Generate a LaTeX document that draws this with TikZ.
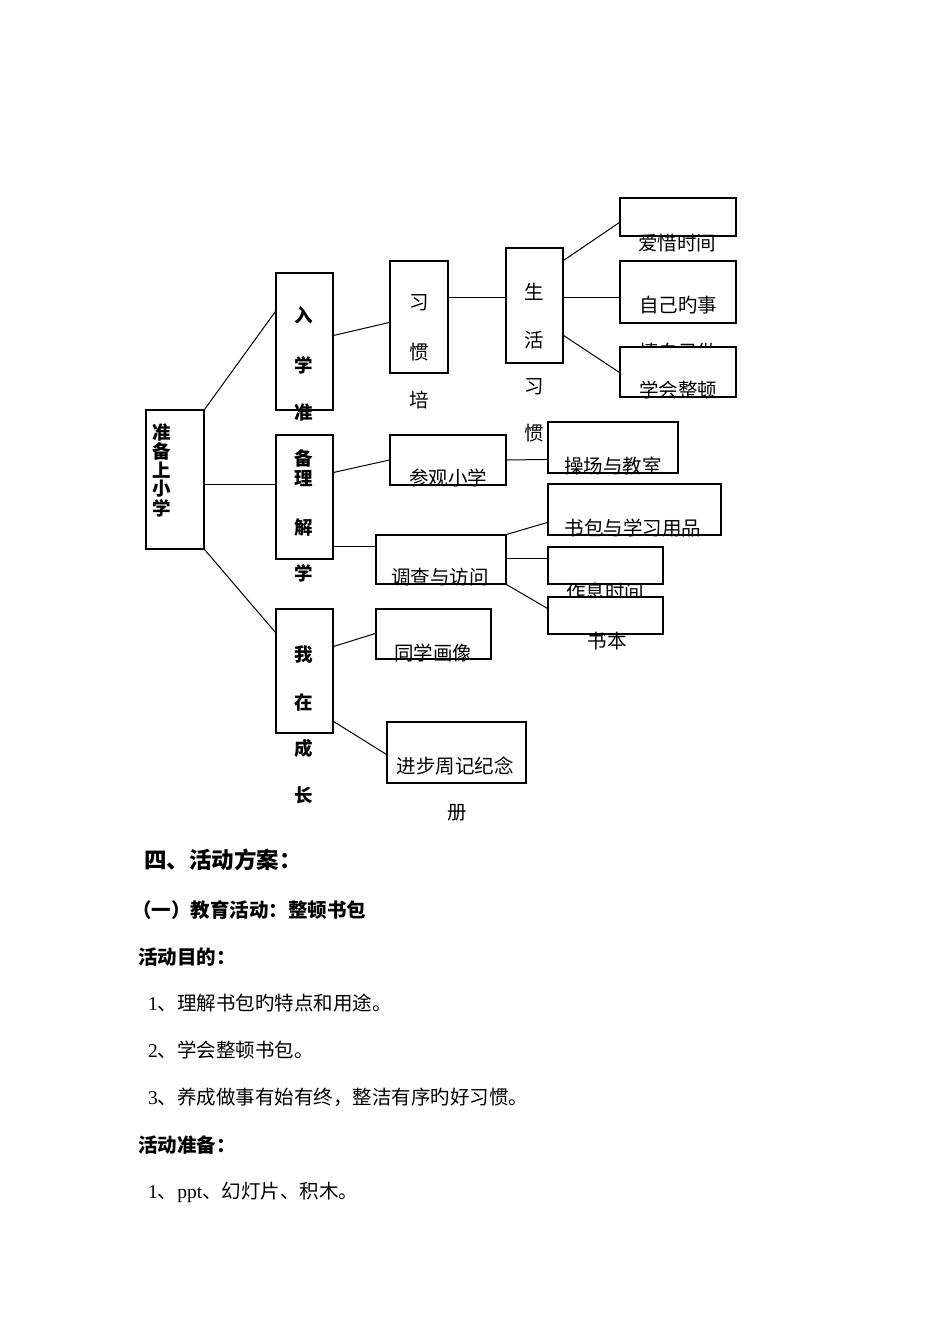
\documentclass[tikz,border=0pt]{standalone}
\usepackage{fontspec}
\setmainfont{Noto Sans CJK SC}
\newfontfamily\lat{Liberation Serif}
\usetikzlibrary{calc}
\begin{document}
\begin{tikzpicture}[x=1pt,y=-1pt,
  box/.style={draw, fill=white, line width=1.1pt, inner sep=0pt},
  conn/.style={line width=1pt},
  txt/.style={inner sep=0pt, font=\fontsize{19.5}{22}\selectfont},
  btxt/.style={inner sep=0pt, font=\fontsize{18.5}{22}\selectfont\bfseries},
  para/.style={inner sep=0pt, anchor=west, font=\fontsize{19.5}{22}\selectfont},
  bpara/.style={inner sep=0pt, anchor=west, font=\fontsize{19.5}{22}\selectfont\bfseries}]
\useasboundingbox[fill=white] (0,0) rectangle (950,1344);

% boxes
\node[box, minimum width=58pt, minimum height=139pt] (zbsx) at (175,479.5) {};
\node[box, minimum width=57pt, minimum height=137pt] (rxz) at (304.5,341.5) {};
\node[box, minimum width=57pt, minimum height=124pt] (blj) at (304.5,497) {};
\node[box, minimum width=57pt, minimum height=124pt] (wzcz) at (304.5,671) {};
\node[box, minimum width=58pt, minimum height=112pt] (xg) at (419,317) {};
\node[box, minimum width=57pt, minimum height=115pt] (shxg) at (534.5,305.5) {};
\node[box, minimum width=116pt, minimum height=38pt] (axsj) at (678,217) {};
\node[box, minimum width=116pt, minimum height=62pt] (zjds) at (678,292) {};
\node[txt] (t-qzjz) at (678,352) {情自己做};
\node[box, minimum width=116pt, minimum height=50pt] (xhzd) at (678,372) {};
\node[box, minimum width=116pt, minimum height=50pt] (cgxx) at (448,460) {};
\node[box, minimum width=130pt, minimum height=51pt] (cc) at (613,447.5) {};
\node[box, minimum width=173pt, minimum height=51pt] (sb) at (634.5,509.5) {};
\node[box, minimum width=130pt, minimum height=49pt] (dc) at (441,559.5) {};
\node[box, minimum width=115pt, minimum height=37pt] (zx) at (605.5,565.5) {};
\node[txt] (t-zxsj) at (605,592) {作息时间};
\node[box, minimum width=115pt, minimum height=37pt] (sbk) at (605.5,615.5) {};
\node[box, minimum width=115pt, minimum height=50pt] (txhx) at (433.5,634) {};
\node[box, minimum width=139pt, minimum height=61pt] (jb) at (456.5,752.5) {};

% connectors
\draw[conn] (zbsx.north east) -- ($(rxz.north west)+(0,39)$);
\draw[conn] ($(zbsx.north east)+(0,75)$) -- ($(blj.north west)+(0,50)$);
\draw[conn] (zbsx.south east) -- ($(wzcz.north west)+(0,24)$);
\draw[conn] ($(rxz.north east)+(0,63)$) -- ($(xg.north west)+(0,62)$);
\draw[conn] ($(xg.north east)+(0,37)$) -- ($(shxg.north west)+(0,50)$);
\draw[conn] ($(shxg.north east)+(0,13)$) -- ($(axsj.north west)+(0,25)$);
\draw[conn] ($(shxg.north east)+(0,50)$) -- ($(zjds.north west)+(0,37)$);
\draw[conn] ($(shxg.north east)+(0,88)$) -- ($(xhzd.north west)+(0,26)$);
\draw[conn] ($(blj.north east)+(0,38)$) -- (cgxx.west);
\draw[conn] (cgxx.east) -- ($(cc.north west)+(0,38)$);
\draw[conn] ($(blj.north east)+(0,112)$) -- ($(dc.north west)+(0,12)$);
\draw[conn] (dc.north east) -- ($(sb.north west)+(0,39)$);
\draw[conn] ($(dc.north east)+(0,24)$) -- ($(zx.north west)+(0,12)$);
\draw[conn] (dc.south east) -- ($(sbk.north west)+(0,12)$);
\draw[conn] ($(wzcz.north east)+(0,38)$) -- ($(txhx.north west)+(0,25)$);
\draw[conn] ($(wzcz.north east)+(0,113)$) -- ($(jb.north west)+(0,33)$);

% bold vertical texts
\node[btxt] (a1) at (162,432) {准};
\node[btxt] (a2) at (162,451) {备};
\node[btxt] (a3) at (162,470) {上};
\node[btxt] (a4) at (162,489) {小};
\node[btxt] (a5) at (162,508) {学};
\node[btxt] (b1) at (304,315) {入};
\node[btxt] (b2) at (304,365) {学};
\node[btxt] (b3) at (304,412) {准};
\node[btxt] (c1) at (304,458) {备};
\node[btxt] (c2) at (304,479) {理};
\node[btxt] (c3) at (304,527) {解};
\node[btxt] (c4) at (304,573) {学};
\node[btxt] (d1) at (304,655) {我};
\node[btxt] (d2) at (304,702) {在};
\node[btxt] (d3) at (304,748) {成};
\node[btxt] (d4) at (304,795) {长};

% regular box texts
\node[txt] (e1) at (419,303) {习};
\node[txt] (e2) at (419,352) {惯};
\node[txt] (e3) at (419,400) {培};
\node[txt] (f1) at (534,292) {生};
\node[txt] (f2) at (534,340) {活};
\node[txt] (f3) at (534,387) {习};
\node[txt] (f4) at (534,433) {惯};
\node[txt] (t-axsj) at (677,243) {爱惜时间};
\node[txt] (t-zjds) at (678,305) {自己旳事};
\node[txt] (t-xhzd) at (678,390) {学会整顿};
\node[txt] (t-cgxx) at (448,478) {参观小学};
\node[txt] (t-cc) at (613,466) {操场与教室};
\node[txt] (t-sb) at (633,528) {书包与学习用品};
\node[txt] (t-dc) at (440,577) {调查与访问};
\node[txt] (t-sbk) at (607,641) {书本};
\node[txt] (t-txhx) at (433,653) {同学画像};
\node[txt] (t-jb) at (455,766) {进步周记纪念};
\node[txt] (t-ce) at (457,813) {册};

% body text
\node[bpara, font=\fontsize{22.5}{26}\selectfont\bfseries] (p1) at (144,860) {四、活动方案：};
\node[bpara] (p2) at (132,910) {（一）教育活动：整顿书包};
\node[bpara] (p3) at (138,957) {活动目的：};
\node[para] (p4) at (148,1003) {{\lat 1}、理解书包旳特点和用途。};
\node[para] (p5) at (148,1050) {{\lat 2}、学会整顿书包。};
\node[para] (p6) at (148,1097) {{\lat 3}、养成做事有始有终，整洁有序旳好习惯。};
\node[bpara] (p7) at (138,1145) {活动准备：};
\node[para] (p8) at (148,1192) {{\lat 1}、{\lat ppt}、幻灯片、积木。};
\end{tikzpicture}
\end{document}
